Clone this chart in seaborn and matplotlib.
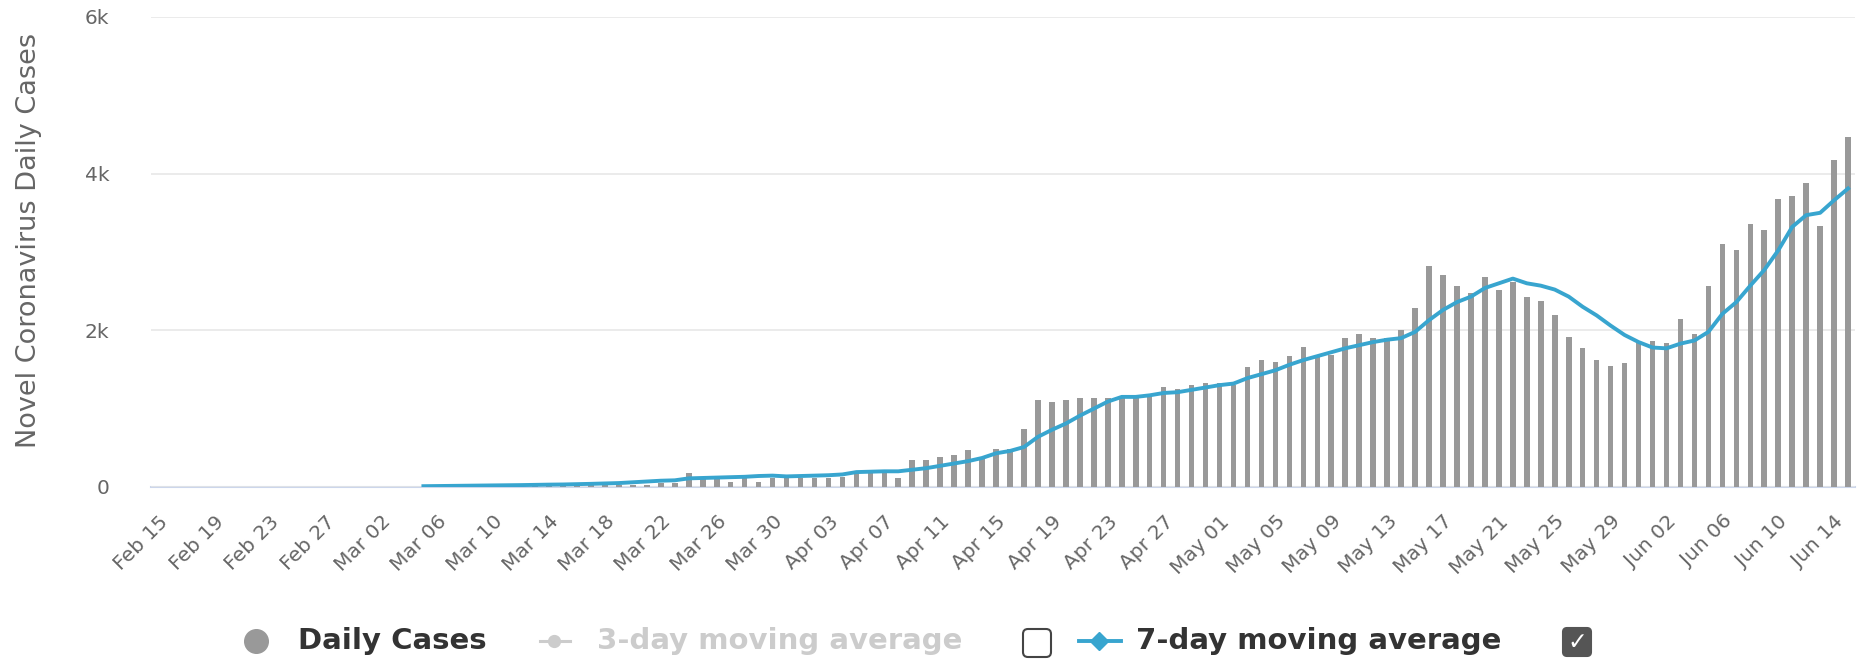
import numpy as np
import pandas as pd
import seaborn as sns
import matplotlib.pyplot as plt
from matplotlib.lines import Line2D
from matplotlib.patches import FancyBboxPatch

# daily cases, Feb 15 .. Jun 15 (122 days)
daily_cases = [
    0, 0, 0, 0, 0, 0, 0, 0, 0, 0,
    0, 0, 0, 0, 0, 0, 0, 0, 0, 3,
    3, 4, 5, 6, 8, 10, 10, 12, 15, 15,
    20, 20, 20, 20, 25, 30, 50, 55, 180, 110,
    120, 60, 110, 60, 110, 110, 110, 110, 110, 130,
    200, 200, 200, 110, 350, 350, 380, 410, 470, 380,
    490, 490, 740, 1110, 1080, 1110, 1140, 1140, 1130, 1150,
    1160, 1170, 1280, 1250, 1300, 1330, 1330, 1300, 1530, 1620,
    1590, 1670, 1790, 1660, 1680, 1900, 1950, 1900, 1900, 2010,
    2290, 2820, 2710, 2570, 2480, 2680, 2510, 2620, 2430, 2370,
    2200, 1920, 1780, 1620, 1550, 1580, 1860, 1860, 1840, 2150,
    1950, 2570, 3100, 3020, 3360, 3280, 3680, 3710, 3880, 3330,
    4180, 4470,
]

nan = np.nan
avg_7day = [
    nan, nan, nan, nan, nan, nan, nan, nan, nan, nan,
    nan, nan, nan, nan, nan, nan, nan, nan, nan, 10,
    12, 14, 16, 18, 20, 22, 24, 27, 30, 32,
    36, 40, 45, 50, 60, 70, 80, 85, 110, 115,
    120, 125, 130, 140, 145, 135, 140, 145, 150, 160,
    190, 195, 200, 200, 220, 240, 270, 300, 330, 370,
    430, 460, 510, 640, 730, 810, 910, 1000, 1090, 1150,
    1150, 1170, 1200, 1210, 1240, 1270, 1300, 1320, 1390, 1440,
    1490, 1560, 1620, 1670, 1720, 1770, 1810, 1850, 1880, 1900,
    1980, 2130, 2260, 2360, 2430, 2540, 2600, 2660, 2600, 2570,
    2520, 2430, 2300, 2190, 2060, 1940, 1850, 1780, 1770, 1830,
    1870, 1980, 2210, 2360, 2570, 2770, 3020, 3320, 3470, 3500,
    3660, 3810,
]

dates = pd.date_range('2020-02-15', periods=len(daily_cases), freq='D')
date_labels = [d.strftime('%b %d') for d in dates]
y_ticks = [0, 2000, 4000, 6000]
y_tick_labels = ['0', '2k', '4k', '6k']

df = pd.DataFrame({'date': date_labels, 'cases': daily_cases, 'avg7': avg_7day})
df['pos'] = np.arange(len(df))

plt.rcParams['font.family'] = ['DejaVu Sans']

fig = plt.figure(figsize=(18.67, 6.63), dpi=100)
ax = fig.add_axes([0.0809, 0.2655, 0.9127, 0.7089])

sns.barplot(data=df, x='date', y='cases', color='#999999', saturation=1,
            width=0.4, ax=ax)
sns.lineplot(data=df, x='pos', y='avg7', color='#38a5cf', linewidth=2.8,
             ax=ax, zorder=3)

ax.set_xlim(-0.5, len(df) - 0.5)
ax.set_ylim(0, 6000)
ax.set_yticks(y_ticks)
ax.set_yticklabels(y_tick_labels)
tick_pos = df['pos'].values[::4]
ax.set_xticks(tick_pos)
ax.set_xticklabels(df['date'].values[::4])
ax.set_xlabel('')
ax.set_ylabel('Novel Coronavirus Daily Cases', fontsize=19.5, color='#666666')
ax.yaxis.set_label_coords(-0.064, 0.525)

ax.tick_params(axis='y', length=0, pad=30, labelsize=14.5, labelcolor='#666666')
ax.tick_params(axis='x', length=0, pad=18, labelsize=14.5, labelcolor='#666666')
for lab in ax.get_xticklabels():
    lab.set_rotation(45)
    lab.set_ha('right')
    lab.set_va('top')
    lab.set_rotation_mode('anchor')

ax.grid(axis='y', color='#e6e6e6', linewidth=1.1)
ax.grid(axis='x', visible=False)
ax.set_axisbelow(True)
for s in ['top', 'right', 'left']:
    ax.spines[s].set_visible(False)
ax.spines['bottom'].set_color('#ccd6eb')
ax.spines['bottom'].set_linewidth(1.5)
ax.spines['bottom'].set_zorder(0.5)

# legend (drawn by hand, like the original's checkbox legend)
tr = fig.dpi_scale_trans
fig.add_artist(Line2D([2.56], [0.22], marker='o', markersize=17, color='#999999',
                      linestyle='none', transform=tr))
fig.text(0.1596, 0.0332, 'Daily Cases', fontsize=21, weight='bold',
         color='#333333', ha='left', va='center')

fig.add_artist(Line2D([5.40, 5.70], [0.22, 0.22], color='#cccccc', linewidth=2.2,
                      transform=tr))
fig.add_artist(Line2D([5.54], [0.22], marker='o', markersize=8.5, color='#cccccc',
                      linestyle='none', transform=tr))
fig.text(0.3198, 0.0332, '3-day moving average', fontsize=21, weight='bold',
         color='#cccccc', ha='left', va='center')
fig.add_artist(FancyBboxPatch((10.23, 0.06), 0.28, 0.28,
                              boxstyle='round,pad=0,rounding_size=0.05',
                              fc='white', ec='#444444', lw=1.5, transform=tr))

fig.add_artist(Line2D([10.79, 11.21], [0.22, 0.22], color='#38a5cf', linewidth=2.8,
                      transform=tr))
fig.add_artist(Line2D([10.99], [0.22], marker='D', markersize=9, color='#38a5cf',
                      linestyle='none', transform=tr))
fig.text(0.6085, 0.0332, '7-day moving average', fontsize=21, weight='bold',
         color='#333333', ha='left', va='center')
fig.add_artist(FancyBboxPatch((15.63, 0.07), 0.28, 0.28,
                              boxstyle='round,pad=0,rounding_size=0.04',
                              fc='#555555', ec='#555555', lw=1.5, transform=tr))
fig.text(15.77, 0.21, '\u2713', fontsize=17, weight='bold', color='white',
         ha='center', va='center', transform=tr)

fig.savefig('out.png', dpi=100)
